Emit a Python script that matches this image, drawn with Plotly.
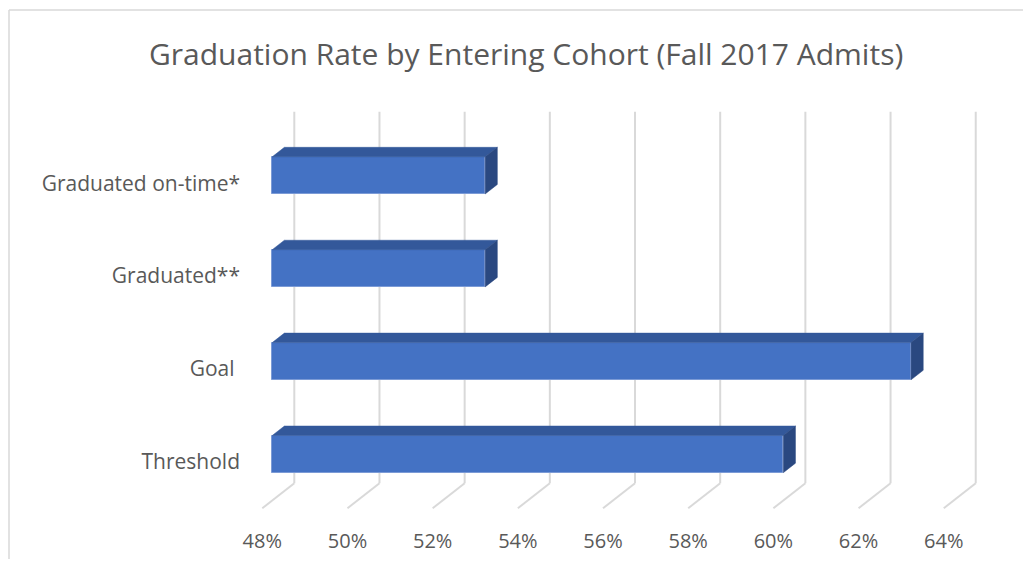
import plotly.graph_objects as go

# ---------------- data ----------------
categories = ["Threshold", "Goal ", "Graduated**", "Graduated on-time*"]   # bottom -> top
values = [60, 63, 53, 53]                                                  # percent
tick_vals = [48, 50, 52, 54, 56, 58, 60, 62, 64]
tick_text = ["48%", "50%", "52%", "54%", "56%", "58%", "60%", "62%", "64%"]
title_text = "Graduation Rate by Entering Cohort (Fall 2017 Admits)"
axis_min = 48

# ---------------- geometry (figure pixels; page adds an 8px body margin) ----------------
W, H = 1015, 551
B = 47                      # bottom margin
PLOT_H = H - B
PX_PER_PCT = 42.59          # back-wall scale
X_BACK_MIN = 286.3          # pixel x of axis_min on back wall
Y_FLOOR = 475.3             # pixel y of back wall bottom
PX_PER_CAT = 92.9
DEPTH_DX, DEPTH_DY = -32.0, 25.0     # back -> front offset in pixels
D_FRONT, D_BACK = 0.69, 0.31         # bar depth fractions
BAR_W = 0.4

ddx = DEPTH_DX / PX_PER_PCT
ddy = -DEPTH_DY / PX_PER_CAT

x_range = [axis_min - X_BACK_MIN / PX_PER_PCT, axis_min + (W - X_BACK_MIN) / PX_PER_PCT]
y_range = [(Y_FLOOR - PLOT_H) / PX_PER_CAT, Y_FLOOR / PX_PER_CAT]
n = len(categories)

FRONT = "#4472C4"
TOP = "#33589A"
SIDE = "#2A4880"
GRID = "#D9D9D9"
TXT = "#595959"
FONT = "Open Sans"

fig = go.Figure()

# back wall gridlines and floor lines (below traces)
shapes = []
for v in tick_vals:
    shapes.append(dict(type="line", xref="x", yref="y", x0=v, y0=0, x1=v, y1=n,
                       line=dict(color=GRID, width=2), layer="below"))
    shapes.append(dict(type="line", xref="x", yref="y", x0=v, y0=0, x1=v + ddx, y1=ddy,
                       line=dict(color=GRID, width=2), layer="below"))
# chart frame (left and top edges; right/bottom fall outside the picture)
fy_top = 1 - 2 / PLOT_H
fx_left = 1 / W
shapes.append(dict(type="line", xref="paper", yref="paper", x0=fx_left, x1=fx_left,
                   y0=fy_top, y1=1 - H / PLOT_H, line=dict(color=GRID, width=1.5), layer="below"))
shapes.append(dict(type="line", xref="paper", yref="paper", x0=fx_left, x1=1.0,
                   y0=fy_top, y1=fy_top, line=dict(color=GRID, width=1.5), layer="below"))

# front faces of bars
centers = [i + 0.5 for i in range(n)]
fig.add_trace(go.Bar(
    orientation="h",
    y=[c + D_FRONT * ddy for c in centers],
    x=[v - axis_min for v in values],
    base=[axis_min + D_FRONT * ddx] * n,
    width=BAR_W,
    marker=dict(color=FRONT, line=dict(color="#7C9BD6", width=1)),
    hoverinfo="skip", showlegend=False,
))

# top and side faces
for c, v in zip(centers, values):
    yt, yb = c + BAR_W / 2, c - BAR_W / 2
    fx, fy = D_FRONT * ddx, D_FRONT * ddy
    bx, by = D_BACK * ddx, D_BACK * ddy
    top_x = [axis_min + fx, v + fx, v + bx, axis_min + bx, axis_min + fx]
    top_y = [yt + fy, yt + fy, yt + by, yt + by, yt + fy]
    fig.add_trace(go.Scatter(x=top_x, y=top_y, mode="lines", fill="toself",
                             fillcolor=TOP, line=dict(color=TOP, width=0.5),
                             hoverinfo="skip", showlegend=False))
    side_x = [v + fx, v + bx, v + bx, v + fx, v + fx]
    side_y = [yt + fy, yt + by, yb + by, yb + fy, yt + fy]
    fig.add_trace(go.Scatter(x=side_x, y=side_y, mode="lines", fill="toself",
                             fillcolor=SIDE, line=dict(color=SIDE, width=0.5),
                             hoverinfo="skip", showlegend=False))

# invisible traces for the label axes
fig.add_trace(go.Scatter(x=[tick_vals[0]], y=[0], xaxis="x2", yaxis="y", mode="markers",
                         marker=dict(opacity=0), hoverinfo="skip", showlegend=False))
fig.add_trace(go.Scatter(x=[tick_vals[0]], y=[0.5], xaxis="x", yaxis="y2", mode="markers",
                         marker=dict(opacity=0), hoverinfo="skip", showlegend=False))

fig.update_layout(
    width=W, height=H,
    margin=dict(l=0, r=0, t=0, b=B),
    paper_bgcolor="white", plot_bgcolor="white",
    shapes=shapes,
    bargap=0,
    xaxis=dict(range=x_range, showgrid=False, zeroline=False, showline=False,
               showticklabels=False, ticks="", fixedrange=True),
    yaxis=dict(range=y_range, showgrid=False, zeroline=False, showline=False,
               showticklabels=False, ticks="", fixedrange=True),
    xaxis2=dict(range=[r - ddx for r in x_range], overlaying="x", anchor="y", side="bottom",
                tickvals=tick_vals, ticktext=tick_text, showgrid=False, zeroline=False,
                showline=False, ticks="", ticklabelstandoff=15,
                tickfont=dict(family=FONT, size=20, color=TXT), fixedrange=True),
    yaxis2=dict(range=[r - ddy for r in y_range], overlaying="y", anchor="free",
                position=254 / W, side="left",
                tickvals=centers, ticktext=categories, showgrid=False, zeroline=False,
                showline=False, ticks="", ticklabelstandoff=22,
                tickfont=dict(family=FONT, size=21, color=TXT), fixedrange=True),
    annotations=[dict(text=title_text, xref="paper", yref="paper",
                      x=518 / W, y=1 - 45 / PLOT_H, xanchor="center", yanchor="middle",
                      showarrow=False, font=dict(family=FONT, size=30, color=TXT))],
)

fig.write_html("out.html")
